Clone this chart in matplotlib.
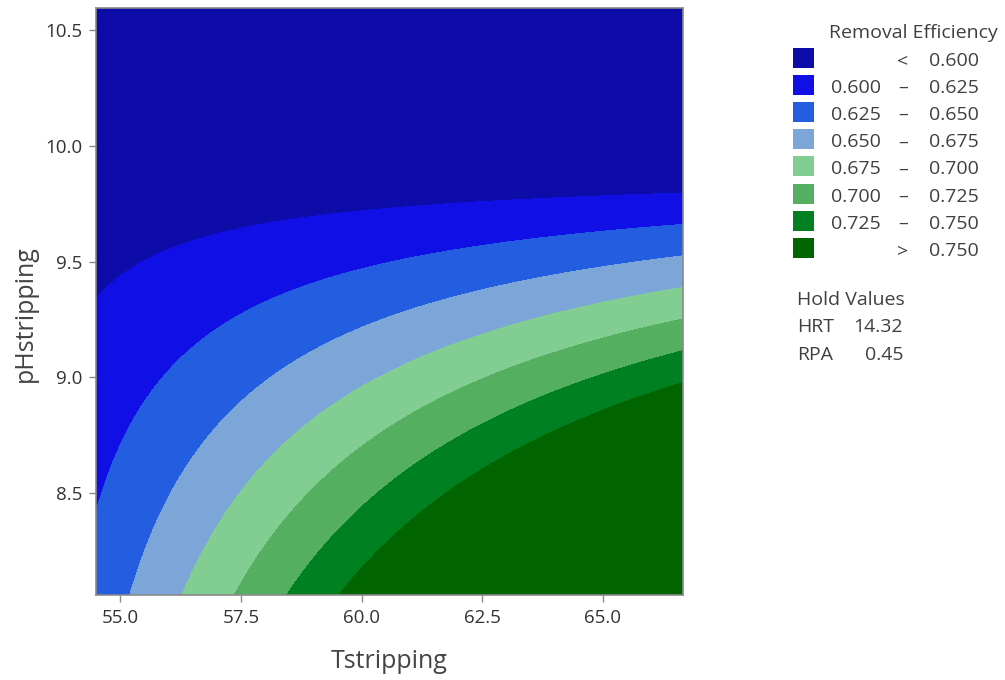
import numpy as np
import matplotlib
matplotlib.use("Agg")
import matplotlib.pyplot as plt
from matplotlib.patches import Rectangle

plt.rcParams["font.family"] = ["Open Sans", "DejaVu Sans"]

# Contour levels of the removal-efficiency surface
levels = [0.600, 0.625, 0.650, 0.675, 0.700, 0.725, 0.750]

# Points (Tstripping, pHstripping) lying on each contour line
t_600 = [54.50, 55.81, 57.45, 59.12, 62.40, 66.70]
ph_600 = [9.322, 9.507, 9.645, 9.693, 9.753, 9.805]
t_625 = [54.50, 55.08, 56.64, 58.28, 59.93, 62.40, 66.68]
ph_625 = [8.415, 8.687, 9.205, 9.378, 9.456, 9.538, 9.663]
t_650 = [55.23, 56.62, 58.28, 59.93, 62.40, 66.68]
ph_650 = [8.061, 8.687, 9.033, 9.218, 9.348, 9.525]
t_675 = [56.29, 58.26, 59.93, 62.40, 66.68]
ph_675 = [8.061, 8.687, 8.946, 9.175, 9.386]
t_700 = [57.39, 59.93, 62.40, 66.68]
ph_700 = [8.061, 8.687, 8.989, 9.248]
t_725 = [58.45, 61.53, 64.04, 66.68]
ph_725 = [8.061, 8.687, 8.946, 9.110]
t_750 = [59.53, 63.21, 66.68]
ph_750 = [8.061, 8.687, 8.976]

band_colors = ["#0E0CA8", "#1010E6", "#235EE0", "#7CA6D8",
               "#82CE92", "#54B060", "#008020", "#006400"]
legend_low = ["", "0.600", "0.625", "0.650", "0.675", "0.700", "0.725", ""]
legend_high = ["0.600", "0.625", "0.650", "0.675", "0.700", "0.725", "0.750", "0.750"]
legend_sep = ["<", "\u2013", "\u2013", "\u2013", "\u2013", "\u2013", "\u2013", ">"]

hold_names = ["HRT", "RPA"]
hold_values = ["14.32", "0.45"]

x_ticks = [55.0, 57.5, 60.0, 62.5, 65.0]
y_ticks = [8.5, 9.0, 9.5, 10.0, 10.5]
t_range = (54.50, 66.66)
ph_range = (8.061, 10.594)

# Quadratic response surface fitted through the contour-line points
tc, pc = 60.5, 9.3
pts_t, pts_p, pts_z = [], [], []
for lev, tt, pp in zip(levels,
                       [t_600, t_625, t_650, t_675, t_700, t_725, t_750],
                       [ph_600, ph_625, ph_650, ph_675, ph_700, ph_725, ph_750]):
    pts_t += tt
    pts_p += pp
    pts_z += [lev] * len(tt)
pts_t = np.array(pts_t) - tc
pts_p = np.array(pts_p) - pc
A = np.column_stack([np.ones_like(pts_t), pts_t, pts_p,
                     pts_t ** 2, pts_p ** 2, pts_t * pts_p])
coef, *_ = np.linalg.lstsq(A, np.array(pts_z), rcond=None)

T = np.linspace(t_range[0], t_range[1], 600)
P = np.linspace(ph_range[0], ph_range[1], 600)
TT, PP = np.meshgrid(T, P)
tt, pp = TT - tc, PP - pc
Z = (coef[0] + coef[1] * tt + coef[2] * pp + coef[3] * tt ** 2
     + coef[4] * pp ** 2 + coef[5] * tt * pp)

W, H = 1005, 680
fig = plt.figure(figsize=(W / 100, H / 100), dpi=100)
ax = fig.add_axes([96 / W, 1 - 595 / H, (683 - 96) / W, (595 - 8) / H])

bounds = [min(Z.min(), levels[0]) - 1] + levels + [max(Z.max(), levels[-1]) + 1]
cs = ax.contourf(TT, PP, Z, levels=bounds, colors=band_colors)
cs.set_edgecolor("face")
cs.set_linewidth(0.6)

ax.set_xlim(*t_range)
ax.set_ylim(*ph_range)
ax.set_xticks(x_ticks)
ax.set_yticks(y_ticks)
ax.set_xticklabels([f"{v:.1f}" for v in x_ticks])
ax.set_yticklabels([f"{v:.1f}" for v in y_ticks])
ax.tick_params(direction="out", length=5, width=1, color="#8a8a8a",
               labelsize=13.5, labelcolor="#333333", pad=5)
for s in ax.spines.values():
    s.set_color("#8a8a8a")
    s.set_linewidth(1.2)

ax.set_xlabel("Tstripping", fontsize=18, color="#444444", va="center")
ax.set_ylabel("pHstripping", fontsize=18, color="#444444", va="center")
ax.xaxis.set_label_coords(0.5, (595 - 661) / 587)
ax.yaxis.set_label_coords((25 - 96) / 587, 0.48)

def fx(x):
    return x / W

def fy(y):
    return 1 - y / H

txt = dict(color="#404040", fontsize=14)
fig.text(fx(998), fy(33), "Removal Efficiency", ha="right", va="center", **txt)
row_y0, row_dy = 61, 27.1
for i, c in enumerate(band_colors):
    y = row_y0 + i * row_dy
    fig.patches.append(Rectangle((fx(793), fy(y + 7)), 21 / W, 20 / H,
                                 transform=fig.transFigure, facecolor=c,
                                 edgecolor="none"))
    if legend_low[i]:
        fig.text(fx(881), fy(y), legend_low[i], ha="right", va="center", **txt)
    fig.text(fx(903), fy(y), legend_sep[i], ha="center", va="center", **txt)
    fig.text(fx(979), fy(y), legend_high[i], ha="right", va="center", **txt)

fig.text(fx(797), fy(300), "Hold Values", ha="left", va="center", **txt)
for j, (n, v) in enumerate(zip(hold_names, hold_values)):
    y = 327 + j * 27.5
    fig.text(fx(797), fy(y), n, ha="left", va="center", **txt)
    fig.text(fx(903), fy(y), v, ha="right", va="center", **txt)

fig.savefig("out.png", dpi=100)
